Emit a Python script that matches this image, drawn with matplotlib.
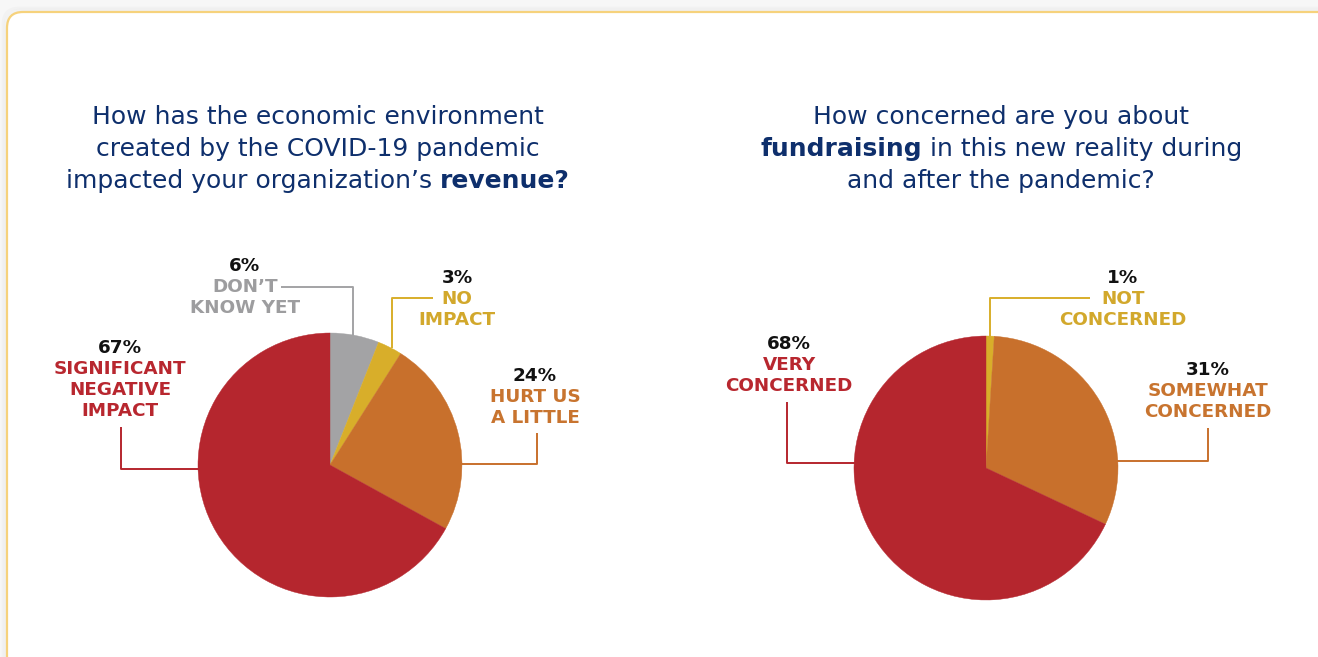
import matplotlib
matplotlib.use("Agg")
import matplotlib.pyplot as plt
from matplotlib.patches import FancyBboxPatch

# ---------------- data ----------------
rev_labels = ["DON’T\nKNOW YET", "NO\nIMPACT", "HURT US\nA LITTLE", "SIGNIFICANT\nNEGATIVE\nIMPACT"]
rev_values = [6, 3, 24, 67]

fund_labels = ["NOT\nCONCERNED", "SOMEWHAT\nCONCERNED", "VERY\nCONCERNED"]
fund_values = [1, 31, 68]

# ---------------- style ----------------
W, H = 1318, 657
NAVY = "#0e2f6c"
RED = "#b5262e"
ORANGE = "#c8702c"
GRAY = "#a3a3a5"
YELLOW = "#d8ae2a"
rev_colors = [GRAY, YELLOW, ORANGE, RED]
rev_text = ["#9d9d9f", "#d2a82c", "#c8742f", "#b8272f"]
fund_colors = [YELLOW, ORANGE, RED]
fund_text = ["#d2a82c", "#c8742f", "#b8272f"]

TITLE_FONT = ["DejaVu Sans"]
LABEL_FONT = ["DejaVu Sans"]

fig = plt.figure(figsize=(W / 100, H / 100), dpi=100, facecolor="#f7f7f7")
ov = fig.add_axes([0, 0, 1, 1])
ov.set_xlim(0, W)
ov.set_ylim(H, 0)
ov.axis("off")

# card with soft shadow
for i in range(3):
    ov.add_patch(FancyBboxPatch((7 - i * 2, 12 - i * 2), 1400, 800,
                                boxstyle="round,pad=0,rounding_size=16",
                                fc="none", ec="#000000", lw=2, alpha=0.02, zorder=0))
ov.add_patch(FancyBboxPatch((7, 12), 1400, 800, boxstyle="round,pad=0,rounding_size=16",
                            fc="white", ec="#f6d27c", lw=1.6, zorder=1))

renderer = fig.canvas.get_renderer()


def mixed_line(cx, y, parts, size=18):
    txts = []
    for s, w in parts:
        t = ov.text(0, y, s, fontsize=size, fontweight=w, color=NAVY,
                    family=TITLE_FONT, ha="left", va="center", zorder=5)
        txts.append(t)
    widths = [t.get_window_extent(renderer).width for t in txts]
    x = cx - sum(widths) / 2
    for t, wd in zip(txts, widths):
        t.set_x(x)
        x += wd


mixed_line(318, 117, [("How has the economic environment", "normal")])
mixed_line(318, 149, [("created by the COVID-19 pandemic", "normal")])
mixed_line(318, 181, [("impacted your organization’s ", "normal"), ("revenue?", "bold")])

mixed_line(1001, 117, [("How concerned are you about", "normal")])
mixed_line(1001, 149, [("fundraising", "bold"), (" in this new reality during", "normal")])
mixed_line(1001, 181, [("and after the pandemic?", "normal")])


def add_pie(cx, cy, r, values, colors):
    ax = fig.add_axes([(cx - r) / W, (H - cy - r) / H, 2 * r / W, 2 * r / H])
    wedges, _ = ax.pie(values, colors=colors, startangle=90, counterclock=False,
                       radius=1, wedgeprops=dict(linewidth=0.3))
    for w in wedges:
        w.set_edgecolor(w.get_facecolor())
    ax.set_xlim(-1, 1)
    ax.set_ylim(-1, 1)
    ax.axis("off")
    return ax


add_pie(330, 465, 132, rev_values, rev_colors)
add_pie(986, 468, 132, fund_values, fund_colors)


def label(cx, y_pct, pct, text, color, size=13.2, gap=21):
    ov.text(cx, y_pct, f"{pct}%", fontsize=size, fontweight="bold", color="#111111",
            family=LABEL_FONT, ha="center", va="center", zorder=5)
    for i, ln in enumerate(text.split("\n")):
        ov.text(cx, y_pct + gap * (i + 1), ln, fontsize=size, fontweight="bold",
                color=color, family=LABEL_FONT, ha="center", va="center", zorder=5)


def leader(xs, ys, color):
    ov.plot(xs, ys, color=color, lw=1.4, solid_capstyle="butt", zorder=3)


# revenue pie labels
label(245, 266, rev_values[0], rev_labels[0], rev_text[0])
leader([281, 353, 353], [287, 287, 336], GRAY)
label(457, 278, rev_values[1], rev_labels[1], rev_text[1])
leader([433, 392, 392], [298, 298, 348], YELLOW)
label(535, 376, rev_values[2], rev_labels[2], rev_text[2])
leader([537, 537, 461], [433, 464, 464], ORANGE)
label(120, 348, rev_values[3], rev_labels[3], rev_text[3])
leader([121, 121, 199], [427, 469, 469], RED)

# fundraising pie labels
label(1123, 278, fund_values[0], fund_labels[0], fund_text[0])
leader([1090, 990, 990], [298, 298, 338], YELLOW)
label(1208, 370, fund_values[1], fund_labels[1], fund_text[1])
leader([1208, 1208, 1117], [428, 461, 461], ORANGE)
label(789, 344, fund_values[2], fund_labels[2], fund_text[2])
leader([787, 787, 855], [402, 463, 463], RED)

fig.savefig("out.png", dpi=100, facecolor=fig.get_facecolor())
